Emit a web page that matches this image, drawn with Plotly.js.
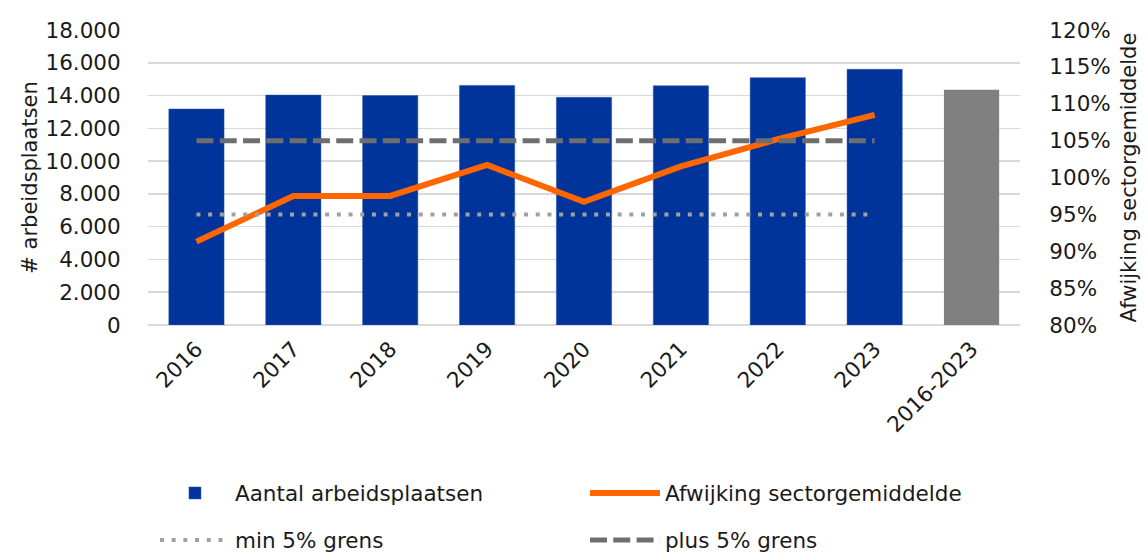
<!DOCTYPE html>
<html>
<head>
<meta charset="utf-8">
<script src="https://cdn.plot.ly/plotly-3.0.1.min.js"></script>
<style>html,body{margin:0;padding:0;background:#fff;}#chart{width:1147px;height:553px;}</style>
</head>
<body>
<div id="chart"></div>
<script>
const years = ['2016','2017','2018','2019','2020','2021','2022','2023'];
const totalLabel = ['2016-2023'];
const jobs = [13180, 14030, 14000, 14620, 13890, 14600, 15090, 15600];
const jobsTotal = [14360];
const deviation = [91.3, 97.5, 97.5, 101.7, 96.7, 101.5, 105.2, 108.5];
const minLimit = [95, 95, 95, 95, 95, 95, 95, 95];
const plusLimit = [105, 105, 105, 105, 105, 105, 105, 105];
const yTicks = [0, 2000, 4000, 6000, 8000, 10000, 12000, 14000, 16000, 18000];

const font = 'DejaVu Sans, sans-serif';
const fs = 21.5;
const traces = [
  {type:'bar', x: years, y: jobs, name:'Aantal arbeidsplaatsen', legend:'legend',
   marker:{color:'#00349a', line:{color:'#2a55b0', width:0.5}}, yaxis:'y'},
  {type:'bar', x: totalLabel, y: jobsTotal, name:'2016-2023', showlegend:false,
   marker:{color:'#808080'}, yaxis:'y'},
  {type:'scatter', mode:'lines', x: years, y: deviation, name:'Afwijking sectorgemiddelde', legend:'legend',
   line:{color:'#ff6600', width:6}, yaxis:'y2'},
  {type:'scatter', mode:'lines', x: years, y: minLimit, name:'min 5% grens', legend:'legend2',
   line:{color:'#a0a0a0', width:4, dash:'4px,7.7px'}, yaxis:'y2'},
  {type:'scatter', mode:'lines', x: years, y: plusLimit, name:'plus 5% grens', legend:'legend2',
   line:{color:'#6e6e6e', width:5, dash:'17px,6.3px'}, yaxis:'y2'}
];
const legendBase = {orientation:'h', xanchor:'left', yanchor:'middle',
  entrywidth:345, entrywidthmode:'pixels', itemwidth:70, traceorder:'normal',
  bgcolor:'rgba(0,0,0,0)', font:{family:font, size:fs, color:'#1a1a1a'}};
const layout = {
  width:1147, height:553,
  margin:{l:148, r:127, t:30, b:228, autoexpand:false},
  paper_bgcolor:'#fff', plot_bgcolor:'#fff',
  separators:',.',
  font:{family:font, size:fs, color:'#1a1a1a'},
  barmode:'overlay', bargap:0.43,
  showlegend:true,
  legend:Object.assign({}, legendBase, {x:0.008, y:(325-493)/295}),
  legend2:Object.assign({}, legendBase, {x:0.008, y:(325-540)/295}),
  xaxis:{type:'category', categoryorder:'array', categoryarray: years.concat(totalLabel),
         tickangle:-45, showgrid:false, showline:false, zeroline:false, automargin:false,
         tickfont:{family:font, size:fs}, ticks:'outside', ticklen:2, tickcolor:'rgba(0,0,0,0)'},
  yaxis:{range:[0,18000], tickvals: yTicks, tickformat:',d', showgrid:true, gridcolor:'#d9d9d9', gridwidth:1.5,
         zeroline:true, zerolinecolor:'#d9d9d9', zerolinewidth:2, automargin:false,
         ticks:'outside', ticklen:22, tickcolor:'rgba(0,0,0,0)', tickfont:{family:font, size:fs},
         title:{text:'# arbeidsplaatsen', font:{family:font, size:21}, standoff:2}},
  yaxis2:{overlaying:'y', side:'right', range:[80,120], dtick:5, tick0:80, ticksuffix:'%', automargin:false,
          showgrid:false, zeroline:false, ticks:'outside', ticklen:24, tickcolor:'rgba(0,0,0,0)',
          tickfont:{family:font, size:fs},
          title:{text:'Afwijking sectorgemiddelde', font:{family:font, size:21}, standoff:11}}
};
Plotly.newPlot('chart', traces, layout, {displayModeBar:false, staticPlot:true});
</script>
</body>
</html>
